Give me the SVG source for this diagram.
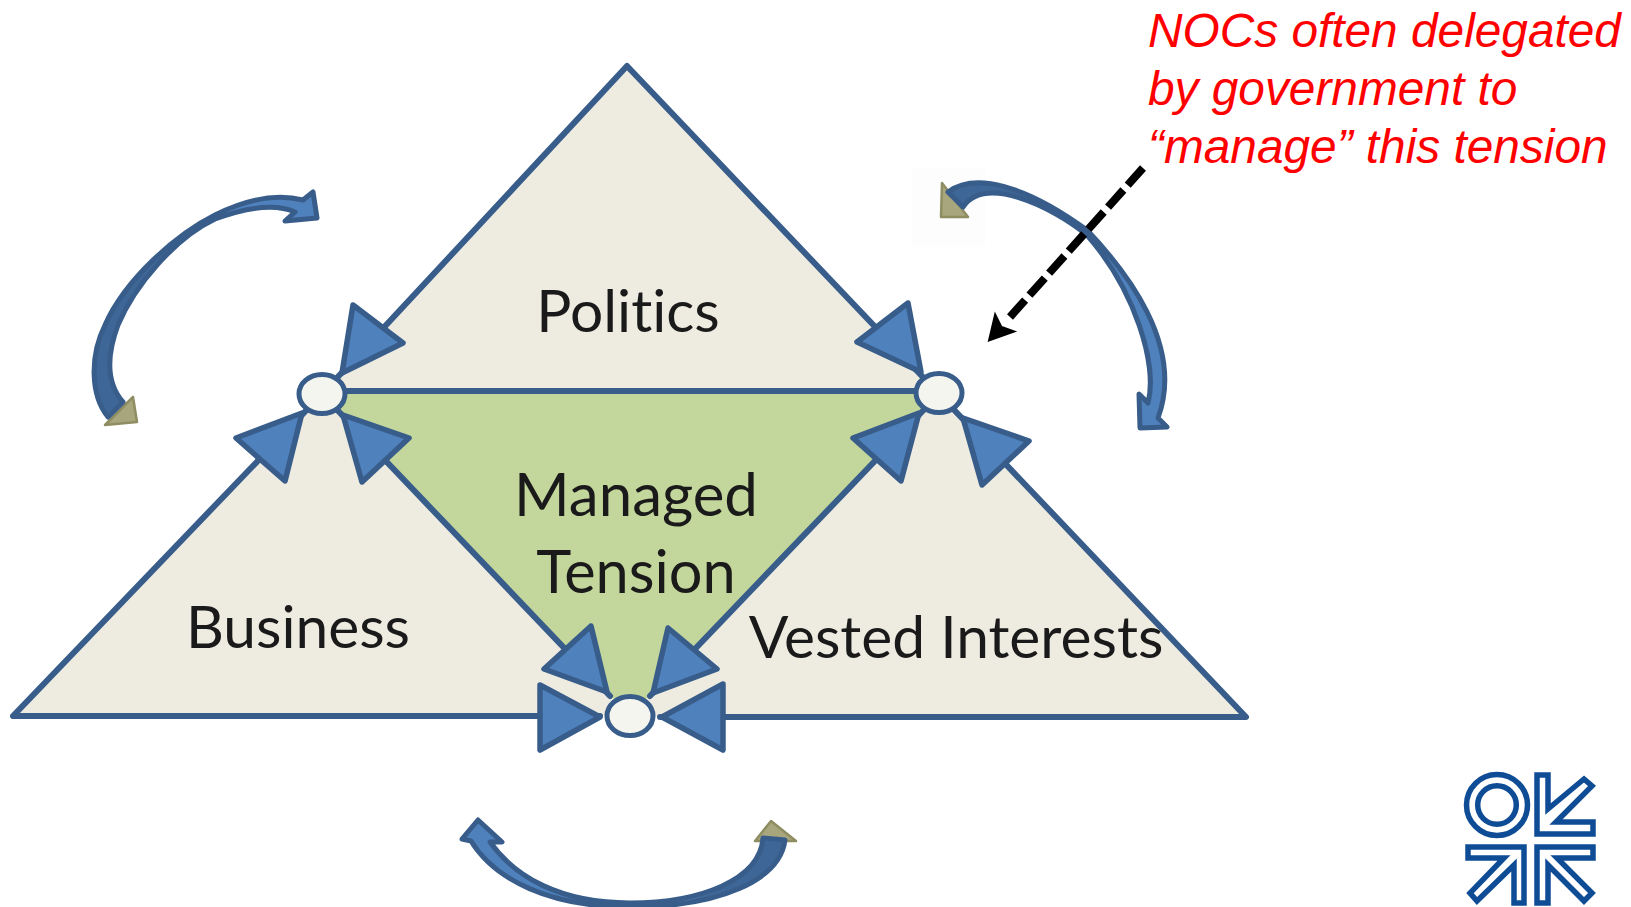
<svg xmlns="http://www.w3.org/2000/svg" width="1631" height="907" viewBox="0 0 1631 907">
<style>
.line{stroke:#385d8a;stroke-width:6;fill:none;stroke-linecap:round;stroke-linejoin:round}
.tip{fill:#4f81bd;stroke:#385d8a;stroke-width:5.5;stroke-linejoin:round}
.hub{fill:#f5f5ef;stroke:#385d8a;stroke-width:5}
.arc{fill:#4f81bd;stroke:#385d8a;stroke-width:5;stroke-linejoin:round}
.fold{fill:#385d8a;opacity:.75}
.brown{fill:#a8a67c;stroke:#8f8d62;stroke-width:2.5;stroke-linejoin:round}
.lbl{font-family:Lato,"Liberation Sans",sans-serif;font-size:58.7px;fill:#1a1a1a;font-variant-ligatures:none}
.note{font-family:"Liberation Sans",Arial,sans-serif;font-style:italic;font-size:47.8px;fill:#ff0000}
.logo{fill:none;stroke:#0f4c96;stroke-width:5.5;stroke-linejoin:miter}
</style>
<defs>
<marker id="head" markerUnits="userSpaceOnUse" markerWidth="36" markerHeight="36" refX="0" refY="18" orient="auto"><path d="M33.6,18 L6,3 L12,18 L6,33Z" fill="#000"/></marker>
</defs>
<g id="politics"><polygon points="627,66 939,394 322,394" fill="#eeece1"/></g>
<g id="business"><polygon points="322,394 630,716 12,716" fill="#eeece1"/></g>
<g id="vested-interests"><polygon points="939,394 630,716 1247,717" fill="#eeece1"/></g>
<g id="managed-tension"><polygon points="322,394 939,394 630,716" fill="#c3d69b"/></g>
<g id="connectors">
<path class="line" d="M322,394 L627,66 L939,394"/>
<path class="line" d="M322,391 H939"/>
<path class="line" d="M322,394 L610,696"/>
<path class="line" d="M939,394 L650,696"/>
<path class="line" d="M322,394 L13,716 H600"/>
<path class="line" d="M939,394 L1246,717 H660"/>
<polygon class="tip" points="353,305 403,343 342,373"/>
<polygon class="tip" points="236,438 302,413 285,481"/>
<polygon class="tip" points="409,438 343,415 362,482"/>
<polygon class="tip" points="908,303 857,342 921,372"/>
<polygon class="tip" points="853,438 919,413 901,481"/>
<polygon class="tip" points="1029,441 963,418 982,485"/>
<polygon class="tip" points="591,626 544,669 607,692"/>
<polygon class="tip" points="668,628 717,669 653,693"/>
<polygon class="tip" points="540,685 600,717 540,750"/>
<polygon class="tip" points="723,684 662,717 723,750"/>
<g id="arc-left">
<polygon class="brown" points="133,397 137,422 105,425"/>
<path class="arc" d="M108,417 C90,395 90,355 105,325 C125,280 175,235 215,215 C245,200 275,193 303,200 L313,192 L317,218 L285,221 L295,212 C275,203 245,208 215,219 C175,238 135,285 118,325 C105,360 108,385 123,402Z"/>
<path class="fold" d="M108,417 C90,395 90,355 105,325 C125,280 175,235 215,215 C175,238 135,285 118,325 C105,360 108,385 123,402Z"/>
</g>
<g id="arc-right">
<rect x="912" y="168" width="73" height="79" fill="#fdfdfd"/>
<polygon class="brown" points="942,183 941,217 968,217"/>
<path class="arc" d="M948,192 C975,172 1025,185 1087,230 C1125,270 1185,345 1158,418 L1167,427 L1140,428 L1139,394 L1148,403 C1158,365 1135,290 1087,235 C1050,205 985,175 963,207Z"/>
<path class="fold" d="M948,192 C975,172 1025,185 1087,230 C1050,205 985,175 963,207Z"/>
</g>
<g id="arc-bottom">
<polygon class="brown" points="771,821 755,841 796,841"/>
<path class="arc" d="M785,840 C780,880 720,907 630,907 C550,907 495,880 471,841 L462,839 L478,820 L502,842 L490,842 C515,877 560,903 630,903 C700,903 760,880 763,838Z"/>
<path class="fold" d="M785,840 C780,880 720,907 640,907 C710,903 755,880 763,838Z"/>
</g>
<line x1="1143" y1="168" x2="1010" y2="317" stroke="#000" stroke-width="8" stroke-dasharray="23 6.5" marker-end="url(#head)"/>
</g>
<g id="hub-left"><ellipse class="hub" cx="322" cy="394" rx="23" ry="19.5"/></g>
<g id="hub-right"><ellipse class="hub" cx="939" cy="393" rx="23" ry="19.5"/></g>
<g id="hub-bottom"><ellipse class="hub" cx="630" cy="716" rx="23" ry="19.5"/></g>
<text class="lbl" x="628" y="332" text-anchor="middle">Politics</text>
<text class="lbl" x="636" y="516" text-anchor="middle" style="font-size:60px">Managed</text>
<text class="lbl" x="636" y="593" text-anchor="middle" style="font-size:59.5px">Tension</text>
<text class="lbl" x="298" y="648" text-anchor="middle">Business</text>
<text class="lbl" x="956" y="658" text-anchor="middle">Vested Interests</text>
<g id="note">
<text class="note" x="1148" y="47">NOCs often delegated</text>
<text class="note" x="1148" y="105">by government to</text>
<text class="note" x="1148" y="163">“manage” this tension</text>
</g>
<g id="logo">
<circle class="logo" cx="1497" cy="805" r="30.5"/>
<circle class="logo" cx="1497" cy="805" r="19.3"/>
<polygon class="logo" points="1537,775 1548,775 1548,809 1584,779 1592,786 1556,822 1593,822 1593,834 1537,834"/>
<polygon class="logo" points="1537,847 1593,847 1593,858 1557,858 1592,893 1584,901 1548,865 1548,903 1537,903"/>
<polygon class="logo" points="1524,847 1468,847 1468,858 1504,858 1470,893 1477,901 1514,865 1514,903 1524,903"/>
</g>
</svg>
